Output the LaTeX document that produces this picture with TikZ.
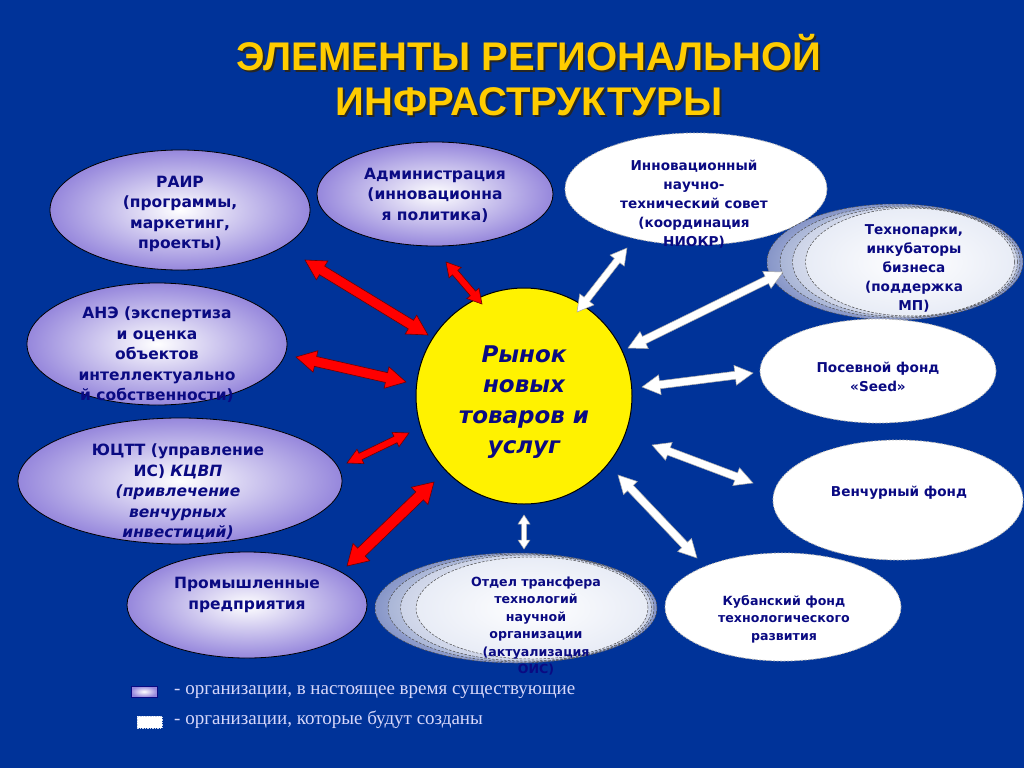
\documentclass[tikz,border=0pt]{standalone}
\usepackage{fontspec}
\setmainfont{DejaVu Sans}
\newfontfamily\titlefont{Liberation Sans}
\newfontfamily\legfont{Liberation Serif}
\usetikzlibrary{shapes.geometric,calc}
\definecolor{bg}{RGB}{0,51,153}
\definecolor{navy}{RGB}{10,10,130}
\definecolor{lav}{RGB}{150,135,220}
\definecolor{ttl}{RGB}{255,204,0}
\definecolor{legtxt}{RGB}{215,215,250}
\definecolor{dred}{RGB}{110,0,0}
\definecolor{layA}{RGB}{135,150,200}
\definecolor{layB}{RGB}{170,182,215}
\definecolor{layC}{RGB}{205,212,232}
\definecolor{layD}{RGB}{232,236,246}
\newcommand\DblArr[6]{%
  \draw[#1] (#2)
   -- ($(#2)!#4!(#3)!#5!90:(#3)$)
   -- ($(#2)!#4!(#3)!#6!90:(#3)$)
   -- ($(#3)!#4!(#2)!#6!-90:(#2)$)
   -- ($(#3)!#4!(#2)!#5!-90:(#2)$)
   -- (#3)
   -- ($(#3)!#4!(#2)!#5!90:(#2)$)
   -- ($(#3)!#4!(#2)!#6!90:(#2)$)
   -- ($(#2)!#4!(#3)!#6!-90:(#3)$)
   -- ($(#2)!#4!(#3)!#5!-90:(#3)$)
   -- cycle;}
\tikzset{
  purp/.style={ellipse, draw=black, line width=0.8pt, inner color=white, outer color=lav, inner sep=0pt},
  wdash/.style={ellipse, fill=white, draw=gray!55, line width=0.8pt, dash pattern=on 2pt off 1.5pt, inner sep=0pt},
  layer/.style={ellipse, inner color=white, outer color=#1, draw=black!70, line width=0.5pt, dash pattern=on 2.5pt off 1.5pt, inner sep=0pt},
  ltxt/.style={text=navy, font=\bfseries\fontsize{15.5}{20.5}\selectfont, align=center, inner sep=0pt},
  rtxt/.style={text=navy, font=\bfseries\fontsize{13.6}{19}\selectfont, align=center, inner sep=0pt},
  stxt/.style={text=navy, font=\bfseries\fontsize{12.6}{17.5}\selectfont, align=center, inner sep=0pt},
  redarr/.style={fill=red, draw=dred, line width=0.6pt, line join=miter},
  whtarr/.style={fill=white, draw=gray!70, line width=0.5pt, line join=miter},
  legtext/.style={text=legtxt, font=\legfont\fontsize{19}{21}\selectfont, anchor=west, inner sep=0pt}
}
\begin{document}
\begin{tikzpicture}[x=1pt,y=-1pt]
\fill[bg] (0,0) rectangle (1024,768);
\useasboundingbox (0,0) rectangle (1024,768);

% title (with its dark shadow)
\node[text=black!85, font=\titlefont\bfseries\fontsize{40}{45}\selectfont, align=center] (tshadow) at (531,77) {ЭЛЕМЕНТЫ РЕГИОНАЛЬНОЙ\\ИНФРАСТРУКТУРЫ};
\node[text=ttl, font=\titlefont\bfseries\fontsize{40}{45}\selectfont, align=center] (title) at (529,75) {ЭЛЕМЕНТЫ РЕГИОНАЛЬНОЙ\\ИНФРАСТРУКТУРЫ};

% existing organisations
\node[purp, minimum width=260pt, minimum height=120pt] (raip) at (180,210) {};
\node[purp, minimum width=236pt, minimum height=104pt] (adm) at (435,194) {};
\node[purp, minimum width=260pt, minimum height=122pt] (ane) at (157,344) {};
\node[purp, minimum width=324pt, minimum height=126pt] (yutt) at (180,481) {};
\node[purp, minimum width=240pt, minimum height=106pt] (prom) at (247,605) {};

% future organisations
\node[wdash, minimum width=262pt, minimum height=112pt] (innov) at (696,189) {};
\node[layer=layA, minimum width=256pt, minimum height=116pt] (tp1) at (895,262) {};
\node[layer=layB, minimum width=240pt, minimum height=112pt] (tp2) at (900,262) {};
\node[layer=layC, minimum width=225pt, minimum height=110pt] (tp3) at (905,262) {};
\node[layer=layD, minimum width=209pt, minimum height=108pt] (tp4) at (910,262) {};
\node[wdash, minimum width=236pt, minimum height=104pt] (seed) at (878,371) {};
\node[wdash, minimum width=250pt, minimum height=120pt] (vench) at (898,500) {};
\node[wdash, minimum width=236pt, minimum height=108pt] (kub) at (783,607) {};
\node[layer=layA, minimum width=282pt, minimum height=110pt] (ot1) at (516,608) {};
\node[layer=layB, minimum width=266pt, minimum height=108pt] (ot2) at (521,608) {};
\node[layer=layC, minimum width=251pt, minimum height=106pt] (ot3) at (526,608) {};
\node[layer=layD, minimum width=232pt, minimum height=102pt] (ot4) at (532,608) {};

% centre
\node[circle, fill=yellow, draw=black, line width=1pt, minimum size=216pt, inner sep=0pt] (market) at (524,396) {};

% texts
\node[ltxt] (raipt) at (180,214) {РАИР\\(программы,\\маркетинг,\\проекты)};
\node[ltxt] (admt) at (435,195) {Администрация\\(инновационна\\я политика)};
\node[ltxt] (anet) at (157,355) {АНЭ (экспертиза\\и оценка\\объектов\\интеллектуально\\й собственности)};
\node[ltxt] (yuttt) at (178,492) {ЮЦТТ (управление\\ИС) \textit{КЦВП}\\\textit{(привлечение}\\\textit{венчурных}\\\textit{инвестиций)}};
\node[ltxt] (promt) at (247,595) {Промышленные\\предприятия};
\node[rtxt] (innovt) at (694,204) {Инновационный\\научно-\\технический совет\\(координация\\НИОКР)};
\node[rtxt] (tpt) at (914,268) {Технопарки,\\инкубаторы\\бизнеса\\(поддержка\\МП)};
\node[rtxt] (seedt) at (878,377) {Посевной фонд\\«Seed»};
\node[rtxt] (vencht) at (899,493) {Венчурный фонд};
\node[stxt] (kubt) at (784,619) {Кубанский фонд\\технологического\\развития};
\node[stxt] (ott) at (536,626) {Отдел трансфера\\технологий\\научной\\организации\\(актуализация\\ОИС)};
\node[text=navy, font=\bfseries\itshape\fontsize{23}{30.5}\selectfont, align=center, inner sep=0pt] (markett) at (524,402) {Рынок\\новых\\товаров и\\услуг};

% arrow end points
\coordinate (r1a) at (305,260); \coordinate (r1b) at (428,335);
\coordinate (r2a) at (446,262); \coordinate (r2b) at (482,304);
\coordinate (r3a) at (296,357); \coordinate (r3b) at (406,382);
\coordinate (r4a) at (347,463); \coordinate (r4b) at (409,433);
\coordinate (r5a) at (347,566); \coordinate (r5b) at (434,482);
\coordinate (w1a) at (577,312); \coordinate (w1b) at (627,248);
\coordinate (w2a) at (628,348); \coordinate (w2b) at (783,272);
\coordinate (w3a) at (642,387); \coordinate (w3b) at (753,373);
\coordinate (w4a) at (652,445); \coordinate (w4b) at (753,483);
\coordinate (w5a) at (618,475); \coordinate (w5b) at (697,558);
\coordinate (w6a) at (524,515); \coordinate (w6b) at (524,549);

\DblArr{redarr}{r1a}{r1b}{20pt}{11pt}{5pt}
\DblArr{redarr}{r2a}{r2b}{14pt}{8pt}{3.5pt}
\DblArr{redarr}{r3a}{r3b}{20pt}{11pt}{5pt}
\DblArr{redarr}{r4a}{r4b}{15pt}{8pt}{3.5pt}
\DblArr{redarr}{r5a}{r5b}{20pt}{12pt}{5.5pt}
\DblArr{whtarr}{w1a}{w1b}{16pt}{9pt}{3.5pt}
\DblArr{whtarr}{w2a}{w2b}{18pt}{9.5pt}{4pt}
\DblArr{whtarr}{w3a}{w3b}{18pt}{10pt}{4pt}
\DblArr{whtarr}{w4a}{w4b}{18pt}{9.5pt}{4pt}
\DblArr{whtarr}{w5a}{w5b}{18pt}{9.5pt}{4pt}
\DblArr{whtarr}{w6a}{w6b}{9pt}{6pt}{2.5pt}

% legend
\node[rectangle, draw=navy, line width=0.8pt, inner color=white, outer color=lav, minimum width=26pt, minimum height=11pt, inner sep=0pt] (leg1) at (144,691.5) {};
\node[rectangle, fill=white, draw=white!80!bg, dash pattern=on 1.5pt off 1pt, minimum width=25pt, minimum height=12pt, inner sep=0pt] (leg2) at (149.5,722) {};
\node[legtext] (leg1t) at (174,692) {- организации, в настоящее время существующие};
\node[legtext] (leg2t) at (174,720) {- организации, которые будут созданы};
\end{tikzpicture}
\end{document}
